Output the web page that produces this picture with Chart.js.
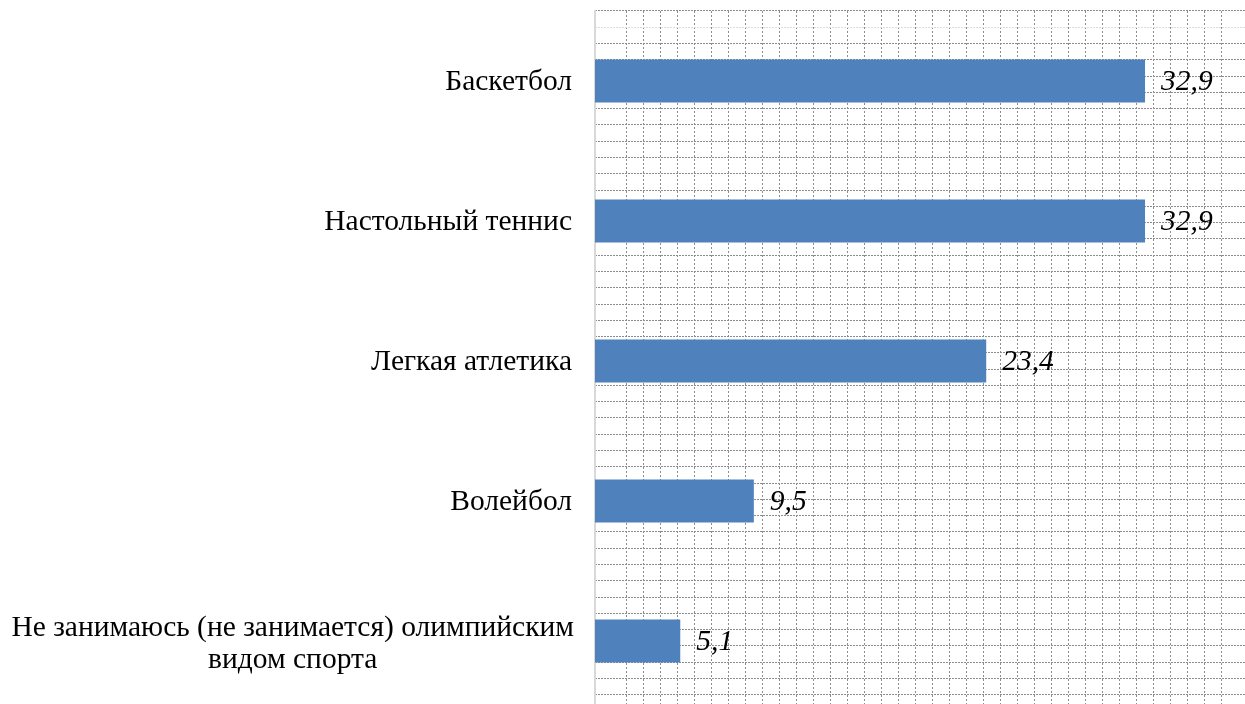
<!DOCTYPE html>
<html>
<head>
<meta charset="utf-8">
<script src="https://cdn.jsdelivr.net/npm/chart.js@4/dist/chart.umd.min.js"></script>
<style>
  html, body { margin: 0; padding: 0; background: #ffffff; overflow: hidden; }
  #wrap { width: 1245px; height: 704px; overflow: hidden; }
  canvas { display: block; }
</style>
</head>
<body>
<div id="wrap"><canvas id="c" width="1245" height="712"></canvas></div>
<script>
const categories = [
  'Баскетбол',
  'Настольный теннис',
  'Легкая атлетика',
  'Волейбол',
  ['Не занимаюсь (не занимается) олимпийским', 'видом спорта']
];
const values = [32.9, 32.9, 23.4, 9.5, 5.1];
const xMax = 38.88;

const SERIF = '"Liberation Serif", "Times New Roman", serif';

const labelPlugin = {
  id: 'labels',
  afterDatasetsDraw(chart) {
    const ctx = chart.ctx;
    const yScale = chart.scales.y;
    ctx.save();
    ctx.fillStyle = '#000000';
    ctx.font = '29.5px ' + SERIF;
    ctx.textBaseline = 'middle';
    const rightX = 572;
    const lineH = 32;
    categories.forEach((lab, i) => {
      const y = yScale.getPixelForTick(i) + 1;
      if (Array.isArray(lab)) {
        let widest = 0;
        lab.forEach(l => { widest = Math.max(widest, ctx.measureText(l).width); });
        const cx = rightX + 2 - widest / 2;
        ctx.textAlign = 'center';
        const startY = y - (lab.length - 1) * lineH / 2 + 2;
        lab.forEach((l, k) => ctx.fillText(l, cx, startY + k * lineH));
      } else {
        ctx.textAlign = 'right';
        ctx.fillText(lab, rightX, y);
      }
    });
    // value labels
    ctx.font = 'italic 29.5px ' + SERIF;
    ctx.textAlign = 'left';
    const meta = chart.getDatasetMeta(0);
    meta.data.forEach((bar, i) => {
      const txt = String(values[i]).replace('.', ',');
      ctx.fillText(txt, bar.x + 16, bar.y + 1);
    });
    ctx.restore();
  }
};

new Chart(document.getElementById('c'), {
  type: 'bar',
  data: {
    labels: categories,
    datasets: [{
      data: values,
      backgroundColor: '#4F81BD',
      borderWidth: 0,
      categoryPercentage: 1,
      barPercentage: 0.307
    }]
  },
  plugins: [labelPlugin],
  options: {
    indexAxis: 'y',
    responsive: false,
    animation: false,
    devicePixelRatio: 1,
    layout: { padding: { left: 595, top: 11, right: 0, bottom: 1 } },
    plugins: { legend: { display: false }, tooltip: { enabled: false } },
    scales: {
      x: { display: false, min: 0, max: xMax },
      y: {
        display: true,
        grid: { display: false },
        ticks: { display: false },
        border: { display: true, color: '#d9d9d9', width: 2 },
        afterFit(s) { s.width = 0; }
      },
      x2: {
        type: 'linear',
        position: 'top',
        display: true,
        min: -0.841,
        max: 37.394,
        ticks: { display: false, stepSize: 1, maxTicksLimit: 1000 },
        grid: { drawTicks: false, color: '#8c8c8c', lineWidth: 1 },
        border: { display: false, dash: [2, 2] },
        afterBuildTicks(s) { s.ticks = s.ticks.filter(t => t.value >= 0 && Number.isInteger(Math.round(t.value * 1000) / 1000)); },
        afterFit(s) { s.height = 0; }
      },
      y2: {
        type: 'linear',
        position: 'right',
        display: true,
        min: 0,
        max: 42,
        reverse: true,
        ticks: { display: false, stepSize: 1, maxTicksLimit: 1000 },
        grid: {
          drawTicks: false,
          lineWidth: 1,
          color: (c) => (c.tick && c.tick.value === 0) ? '#dcdcdc' : '#8c8c8c'
        },
        border: { display: false, dash: [2, 1] },
        afterFit(s) { s.width = 0; }
      }
    }
  }
});
</script>
</body>
</html>
